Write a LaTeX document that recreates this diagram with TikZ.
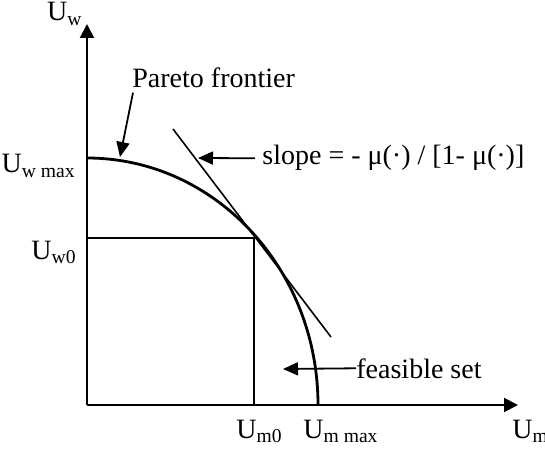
\documentclass[tikz,border=0pt]{standalone}
\usepackage{fontspec}
\setmainfont{Liberation Serif}
\usetikzlibrary{positioning, arrows.meta}

\begin{document}
\begin{tikzpicture}[x=0.5pt, y=0.5pt,
    axisLine/.style={line width=1pt, -{Triangle[length=7pt, width=7pt]}},
    frontier/.style={line width=1.4pt},
    guide/.style={line width=0.8pt},
    pointer/.style={line width=0.9pt, -{Triangle[length=7.5pt, width=6.5pt]}},
    lbl/.style={font=\fontsize{14pt}{16pt}\selectfont, inner sep=0pt},
]
\useasboundingbox (-87,-45) rectangle (458,405);
% axes
\coordinate (O) at (0,0);
\coordinate (yTop) at (0,381);
\coordinate (xEnd) at (431,0);
\draw[axisLine] (O) -- (yTop);
\draw[axisLine] (O) -- (xEnd);
\node[lbl, anchor=base east] (uw) at (-4,384) {U\textsubscript{w}};
\node[lbl, anchor=base west] (um) at (425,-33) {U\textsubscript{m}};
% frontier, starting point and tangent
\draw[frontier] (0,247) arc[start angle=90, end angle=0, x radius=231, y radius=247];
\draw[guide] (0,167) -- (167,167) -- (167,0);
\draw[guide] (86,276) -- (244,68);
\node[lbl, anchor=base east] (uwmax) at (-11,232) {U\textsubscript{w max}};
\node[lbl, anchor=base east] (uw0) at (-10,146) {U\textsubscript{w0}};
\node[lbl, anchor=base west] (um0) at (149,-33) {U\textsubscript{m0}};
\node[lbl, anchor=base west] (ummax) at (216,-33) {U\textsubscript{m max}};
% annotations
\node[lbl, anchor=base west] (pareto) at (45,317) {Pareto frontier};
\coordinate (paretoTip) at (33,248);
\draw[pointer] ([shift={(1,-4)}]pareto.south west) -- (paretoTip);
\node[lbl, anchor=base west] (slope) at (175,240) {slope = - μ(·) / [1- μ(·)]};
\coordinate (slopeTip) at (111,247);
\draw[pointer] ([xshift=-3.5pt]slope.west) -- (slopeTip);
\node[lbl, anchor=base west] (feasible) at (269,27) {feasible set};
\coordinate (feasibleTip) at (196,36);
\draw[pointer] (feasible.west) -- (feasibleTip);
\end{tikzpicture}
\end{document}
